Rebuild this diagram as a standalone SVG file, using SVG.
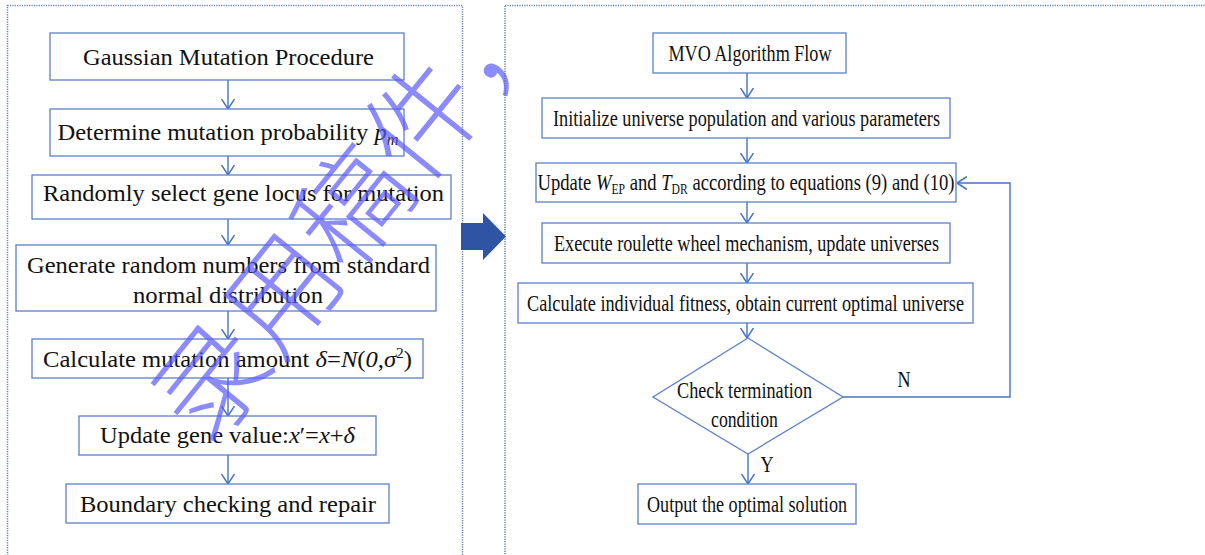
<svg xmlns="http://www.w3.org/2000/svg" width="1205" height="555" viewBox="0 0 1205 555">
<style>
.bg{fill:#ffffff}
.panel{fill:none;stroke:#6a7ea8;stroke-width:1.5;stroke-dasharray:1.2 1.2}
.box{fill:#ffffff;stroke:#5b80c8;stroke-width:1.3}
.t{font-family:"Liberation Serif","Times New Roman",serif;font-size:24px;fill:#111111;text-anchor:middle}
.i{font-style:italic}
.conn{fill:none;stroke:#4472c4;stroke-width:1.4}
.wm{font-family:"Noto Sans CJK SC","Noto Sans CJK JP",sans-serif;font-size:112px;font-weight:300;fill:#5a5aff;fill-opacity:0.7}
</style>
<defs>
<marker id="ah" viewBox="0 0 10 14" refX="10" refY="7" markerWidth="10" markerHeight="14" markerUnits="userSpaceOnUse" orient="auto">
<path d="M0,0.5 L10,7 L0,13.5" fill="none" stroke="#4472c4" stroke-width="1.5"/>
</marker>
</defs>
<rect class="bg" x="0" y="0" width="1205" height="555"/>
<g id="panels">
<rect class="panel" x="7.5" y="5.5" width="455" height="600"/>
<rect class="panel" x="505" y="5.5" width="800" height="600"/>
<polygon id="bigarrow" points="461,223 483,223 483,213 506,236.5 483,260 483,250 461,250" fill="#2e54a3"/>
</g>
<g id="connectors">
<line class="conn" x1="228" y1="80" x2="228" y2="109" marker-end="url(#ah)"/>
<line class="conn" x1="228" y1="156" x2="228" y2="175" marker-end="url(#ah)"/>
<line class="conn" x1="228" y1="219" x2="228" y2="245" marker-end="url(#ah)"/>
<line class="conn" x1="228" y1="311" x2="228" y2="339" marker-end="url(#ah)"/>
<line class="conn" x1="228" y1="378" x2="228" y2="416" marker-end="url(#ah)"/>
<line class="conn" x1="228" y1="455" x2="228" y2="484" marker-end="url(#ah)"/>
<line class="conn" x1="747" y1="73" x2="747" y2="98" marker-end="url(#ah)"/>
<line class="conn" x1="747" y1="138" x2="747" y2="163" marker-end="url(#ah)"/>
<line class="conn" x1="747" y1="202" x2="747" y2="223" marker-end="url(#ah)"/>
<line class="conn" x1="747" y1="263" x2="747" y2="283" marker-end="url(#ah)"/>
<line class="conn" x1="747" y1="323" x2="747" y2="338" marker-end="url(#ah)"/>
<line class="conn" x1="748" y1="454" x2="748" y2="484" marker-end="url(#ah)"/>
<polyline class="conn" points="843,397 1010,397 1010,183 957,183" marker-end="url(#ah)"/>
<text class="t" transform="translate(904,387) scale(0.755,1)">N</text>
<text class="t" transform="translate(767,472) scale(0.755,1)">Y</text>
</g>
<g id="L1"><rect class="box" x="50" y="33" width="354" height="47"/>
<text class="t" x="228.5" y="65" textLength="291" lengthAdjust="spacingAndGlyphs">Gaussian Mutation Procedure</text></g>
<g id="L2"><rect class="box" x="50" y="109" width="354" height="47"/>
<text class="t" x="228" y="140" textLength="341" lengthAdjust="spacingAndGlyphs">Determine mutation probability <tspan class="i">p</tspan><tspan class="i" font-size="16" dy="5">m</tspan></text></g>
<g id="L3"><rect class="box" x="32" y="175" width="419" height="44"/>
<text class="t" x="243.5" y="201" textLength="401" lengthAdjust="spacingAndGlyphs">Randomly select gene locus for mutation</text></g>
<g id="L4"><rect class="box" x="16" y="245" width="420" height="66"/>
<text class="t" x="228.5" y="273" textLength="403" lengthAdjust="spacingAndGlyphs">Generate random numbers from standard</text>
<text class="t" x="228" y="303" textLength="190" lengthAdjust="spacingAndGlyphs">normal distribution</text></g>
<g id="L5"><rect class="box" x="32" y="339" width="391" height="39"/>
<text class="t" x="227.5" y="367" textLength="369" lengthAdjust="spacingAndGlyphs">Calculate mutation amount <tspan class="i">δ</tspan>=<tspan class="i">N</tspan>(<tspan class="i">0</tspan>,<tspan class="i">σ</tspan><tspan font-size="15" dy="-9">2</tspan><tspan dy="9">)</tspan></text></g>
<g id="L6"><rect class="box" x="79" y="416" width="297" height="39"/>
<text class="t" x="227.5" y="443" textLength="255" lengthAdjust="spacingAndGlyphs">Update gene value:<tspan class="i">x</tspan>′=<tspan class="i">x</tspan>+<tspan class="i">δ</tspan></text></g>
<g id="L7"><rect class="box" x="66" y="484" width="323" height="39"/>
<text class="t" x="228" y="512" textLength="296" lengthAdjust="spacingAndGlyphs">Boundary checking and repair</text></g>
<g id="R1"><rect class="box" x="653" y="33" width="193" height="40"/>
<text class="t" transform="translate(750,61) scale(0.755,1)">MVO Algorithm Flow</text></g>
<g id="R2"><rect class="box" x="542" y="98" width="408" height="40"/>
<text class="t" transform="translate(746.5,126) scale(0.755,1)" textLength="512.6" lengthAdjust="spacingAndGlyphs">Initialize universe population and various parameters</text></g>
<g id="R3"><rect class="box" x="536" y="163" width="420" height="39"/>
<text class="t" transform="translate(746,190) scale(0.776,1)">Update <tspan class="i">W</tspan><tspan font-size="15" dy="4">EP</tspan><tspan dy="-4"> and </tspan><tspan class="i">T</tspan><tspan font-size="15" dy="4">DR</tspan><tspan dy="-4"> according to equations (9) and (10)</tspan></text></g>
<g id="R4"><rect class="box" x="542" y="223" width="408" height="40"/>
<text class="t" transform="translate(746.5,251) scale(0.755,1)" textLength="510" lengthAdjust="spacingAndGlyphs">Execute roulette wheel mechanism, update universes</text></g>
<g id="R5"><rect class="box" x="518" y="283" width="455" height="40"/>
<text class="t" transform="translate(745.5,311) scale(0.755,1)" textLength="578.8" lengthAdjust="spacingAndGlyphs">Calculate individual fitness, obtain current optimal universe</text></g>
<g id="D1"><polygon class="box" points="748,338 843,397 748,454 653,397"/>
<text class="t" transform="translate(744.5,398) scale(0.755,1)" textLength="178.8" lengthAdjust="spacingAndGlyphs">Check termination</text>
<text class="t" transform="translate(744.5,427) scale(0.755,1)" textLength="88.7" lengthAdjust="spacingAndGlyphs">condition</text></g>
<g id="R6"><rect class="box" x="638" y="484" width="218" height="40"/>
<text class="t" transform="translate(747,512) scale(0.755,1)" textLength="265" lengthAdjust="spacingAndGlyphs">Output the optimal solution</text></g>
<g id="watermark">
<text class="wm" transform="translate(208,450) rotate(-51)">录用稿件，</text>
</g>
</svg>
